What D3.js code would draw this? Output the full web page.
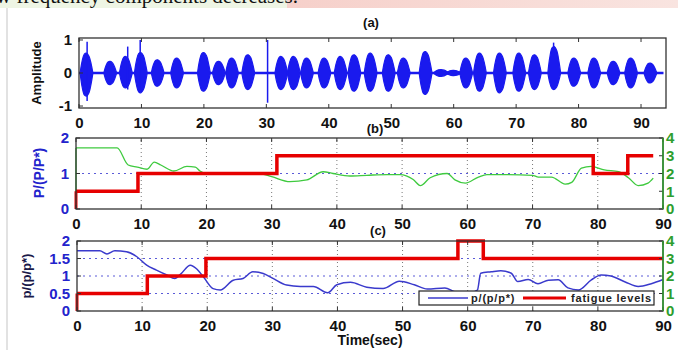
<!DOCTYPE html>
<html><head><meta charset="utf-8">
<script src="https://cdn.jsdelivr.net/npm/d3@7"></script>
<style>body{margin:0;background:#fff}svg{display:block}</style>
</head><body>
<svg id="c" width="678" height="350"></svg>
<script>
// ---------- DATA ----------
const xTicks = [0,10,20,30,40,50,60,70,80,90];
// (a) speech-like bursts: [centre time, upper amp, lower amp]
const burstT  = [1.2,5,7.5,9.9,12.6,15.7,20,22.4,24.5,27.1,32.4,34.4,36.5,39.3,41.9,44.1,46.7,49.6,52,55.5,58,60,62,64.2,67.4,70.5,73,76.1,79.3,82.5,85.6,88.4,91.5];
const burstUp = [0.6,0.35,0.5,0.62,0.4,0.45,0.62,0.35,0.45,0.55,0.5,0.5,0.45,0.45,0.5,0.55,0.6,0.55,0.45,0.65,0.1,0.08,0.45,0.6,0.6,0.6,0.55,0.8,0.45,0.45,0.35,0.45,0.3];
const burstDn = [-0.7,-0.35,-0.45,-0.6,-0.4,-0.45,-0.55,-0.35,-0.45,-0.5,-0.5,-0.5,-0.45,-0.45,-0.5,-0.55,-0.55,-0.55,-0.45,-0.65,-0.1,-0.08,-0.45,-0.55,-0.6,-0.55,-0.5,-0.5,-0.4,-0.45,-0.35,-0.45,-0.3];
const spikeT  = [1.3,7.8,9.8,30.2,76.0];
const spikeUp = [0.95,0.8,1.0,1.0,0.92];
const spikeDn = [-0.85,-0.5,-0.5,-0.9,-0.5];
const signalEnd = 93.6;
const yTicksA = [-1,0,1];
// (b)
const gT = [0,6.3,8,9.4,10.9,12,13,15,17,18.3,19,20,22,25,28,30,32.8,35.4,37.9,39.4,42,44.6,47.7,49.7,51.7,52.8,54.3,56.9,58.1,59.7,61.7,63,66,70,70.9,72.9,75,76,77.5,79,81,83.2,84.7,86.2,87.7,88.5];
const gV = [1.72,1.72,1.24,1.18,1.12,1.32,1.24,1.07,1.2,1.18,1.07,1.0,1.02,1.0,1.0,0.91,0.77,0.82,1.05,1.0,0.93,0.95,0.97,0.97,0.83,0.66,0.88,1.0,0.82,0.73,0.9,0.97,0.97,0.95,0.9,0.9,0.7,0.75,1.15,1.2,1.1,1.05,0.88,0.66,0.73,0.87];
const fbT = [0,9.5,30.8,79.3,84.6,88.5];
const fbV = [1,2,3,2,3,3];
const yTicksB = [0,1,2];
const rTicks = [0,1,2,3,4];
// (c)
const bT = [0,3.5,4.6,5.8,7.6,9.2,10.7,12.2,13.8,15,16,17.4,18.4,19.4,20.9,22,24,25.5,27,28.6,30.1,32.2,34.3,36.3,38.5,39.9,42,44.5,47,49.5,51.8,53.8,56.5,58,60,61.5,62,63.6,65.1,66.7,67.7,69.3,70.8,72.4,73.9,75.4,77,79,80.5,82,84.2,86.2,88.2,90];
const bV = [1.72,1.72,1.63,1.72,1.69,1.55,1.31,1.17,1.03,0.93,1.07,1.31,1.2,0.98,0.64,0.6,0.88,0.93,1.12,1.07,0.93,0.74,0.7,0.7,0.52,0.75,0.82,0.68,0.64,0.85,0.75,0.63,0.66,0.55,0.5,0.6,1.08,1.12,1.15,1.08,0.84,0.9,0.78,0.88,0.89,0.66,0.6,0.89,1.03,1.0,0.83,0.7,0.78,0.9];
const fcT = [0,10.8,19.8,58.5,62.4,90];
const fcV = [1,2,3,4,3,3];
const yTicksC = [0,0.5,1,1.5,2];
const yTickLabelsC = ["0","0.5","1","1.5","2"];
const legendLabels = ["p/(p/p*)","fatigue levels"];

// ---------- DRAW ----------
const svg = d3.select("#c");
const RED="#e60000", GREEN="#3fca3f", BLUE="#1a1aee", LBLUE="#3a3acc", GLAB="#2e9e2e", BLAB="#2323cc";
const FONT = "'Liberation Sans', Arial, sans-serif";

// page background pieces
svg.append("rect").attr("x",0).attr("y",0).attr("width",287).attr("height",8).attr("fill","#eef5e4");
const grad = svg.append("defs").append("linearGradient").attr("id","pk");
grad.append("stop").attr("offset","0").attr("stop-color","#f6d0ca");
grad.append("stop").attr("offset","1").attr("stop-color","#f9e4e0");
svg.append("rect").attr("x",287).attr("y",0).attr("width",391).attr("height",8).attr("fill","url(#pk)");
svg.append("text").attr("x",-4).attr("y",3).attr("font-family","'Liberation Serif', serif").attr("font-size",21).attr("fill","#111").text("w frequency components decreases.");
svg.append("line").attr("x1",7).attr("x2",7).attr("y1",8).attr("y2",350).attr("stroke","#e2e2e2").attr("stroke-width",2);

function box(g, x, y){
  const [x0,x1]=x.range(), [y0,y1]=y.range();
  g.append("rect").attr("x",x0).attr("y",y1).attr("width",x1-x0).attr("height",y0-y1)
   .attr("fill","none").attr("stroke","#333").attr("stroke-width",1.3);
}
function xAxis(g, x, y){
  const [y0,y1]=y.range();
  const ax = d3.axisBottom(x).tickValues(xTicks).tickSize(0).tickPadding(9).tickFormat(d3.format("d"));
  const a = g.append("g").attr("transform",`translate(0,${y0})`).call(ax);
  a.select(".domain").remove();
  a.selectAll("text").attr("font-family",FONT).attr("font-weight","bold").attr("font-size",15).attr("fill","#111");
  g.selectAll(null).data(xTicks).join("line").attr("x1",d=>x(d)).attr("x2",d=>x(d)).attr("y1",y0).attr("y2",y0-4).attr("stroke","#333");
  g.selectAll(null).data(xTicks).join("line").attr("x1",d=>x(d)).attr("x2",d=>x(d)).attr("y1",y1).attr("y2",y1+4).attr("stroke","#333");
}
function yAxisLeft(g, x, y, ticks, labels, color){
  const x0=x.range()[0];
  const ax = d3.axisLeft(y).tickValues(ticks).tickSize(0).tickPadding(7).tickFormat((d,i)=>labels?labels[i]:String(d));
  const a = g.append("g").attr("transform",`translate(${x0},0)`).call(ax);
  a.select(".domain").remove();
  a.selectAll("text").attr("font-family",FONT).attr("font-weight","bold").attr("font-size",15).attr("fill",color);
  g.selectAll(null).data(ticks).join("line").attr("x1",x0).attr("x2",x0+4).attr("y1",d=>y(d)).attr("y2",d=>y(d)).attr("stroke","#333");
}
function yAxisRight(g, x, yR){
  const x1=x.range()[1];
  const ax = d3.axisRight(yR).tickValues(rTicks).tickSize(0).tickPadding(3).tickFormat(d3.format("d"));
  const a = g.append("g").attr("transform",`translate(${x1},0)`).call(ax);
  a.select(".domain").remove();
  a.selectAll("text").attr("font-family",FONT).attr("font-weight","bold").attr("font-size",15).attr("fill",GLAB);
  g.selectAll(null).data(rTicks).join("line").attr("x1",x1).attr("x2",x1-4).attr("y1",d=>yR(d)).attr("y2",d=>yR(d)).attr("stroke","#333");
  g.append("line").attr("x1",x1).attr("x2",x1).attr("y1",yR.range()[0]).attr("y2",yR.range()[1]).attr("stroke",GLAB).attr("stroke-width",1.5);
}
function vGrid(g, x, y){
  const [y0,y1]=y.range();
  g.selectAll(null).data(xTicks.filter(d=>d>0&&d<90)).join("line")
   .attr("x1",d=>x(d)).attr("x2",d=>x(d)).attr("y1",y0).attr("y2",y1)
   .attr("stroke","#777").attr("stroke-dasharray","1,3");
}
function hGrid(g, x, y, vals){
  const [x0,x1]=x.range();
  g.selectAll(null).data(vals).join("line").attr("x1",x0).attr("x2",x1).attr("y1",d=>y(d)).attr("y2",d=>y(d))
   .attr("stroke","#5a5ad8").attr("stroke-dasharray","2,4");
}
function yLabel(g, xpos, ypos, txt, color, size){
  g.append("text").attr("transform",`translate(${xpos},${ypos}) rotate(-90)`).attr("text-anchor","middle")
   .attr("font-family",FONT).attr("font-weight","bold").attr("font-size",size).attr("fill",color).text(txt);
}
function title(g, xpos, ypos, txt){
  g.append("text").attr("x",xpos).attr("y",ypos).attr("text-anchor","middle").attr("font-family",FONT)
   .attr("font-weight","bold").attr("font-size",13).attr("fill","#111").text(txt);
}

// ----- Panel (a)
{
  const g = svg.append("g");
  const x = d3.scaleLinear().domain([0,94]).range([79,666]);
  const y = d3.scaleLinear().domain([-1.06,1.06]).range([108,38]);
  g.append("line").attr("x1",x(0)).attr("x2",x(signalEnd)).attr("y1",y(0)).attr("y2",y(0)).attr("stroke",BLUE).attr("stroke-width",2.5);
  const prof = [[-1,0.05],[-0.7,0.6],[-0.35,0.95],[0,1],[0.4,0.85],[0.75,0.45],[1,0.05]];
  const area = d3.area().x(d=>x(d.t)).y0(d=>y(d.lo)).y1(d=>y(d.hi)).curve(d3.curveCatmullRom);
  burstT.forEach((t,i)=>{
    const hw = burstUp[i] < 0.15 ? 1.2 : 1.0;
    const pts = prof.map(([o,f])=>({t:t+o*hw, hi:burstUp[i]*f, lo:burstDn[i]*f}));
    g.append("path").attr("d",area(pts)).attr("fill",BLUE).attr("stroke",BLUE).attr("stroke-width",1.2);
  });
  g.selectAll(null).data(spikeT).join("line").attr("x1",d=>x(d)).attr("x2",d=>x(d))
   .attr("y1",(d,i)=>y(spikeUp[i])).attr("y2",(d,i)=>y(spikeDn[i])).attr("stroke",BLUE).attr("stroke-width",1.5);
  box(g,x,y);
  xAxis(g,x,y);
  yAxisLeft(g,x,y,yTicksA,null,"#111");
  yLabel(g,41,73,"Amplitude","#111",13);
  title(g,371,27,"(a)");
}

// ----- Panel (b)
{
  const g = svg.append("g");
  const x = d3.scaleLinear().domain([0,90]).range([76,663]);
  const y = d3.scaleLinear().domain([0,2]).range([209,138]);
  const yR = d3.scaleLinear().domain([0,4]).range([209,138]);
  vGrid(g,x,y); hGrid(g,x,y,[1]);
  const line = d3.line().x(d=>x(d[0])).y(d=>y(d[1])).curve(d3.curveMonotoneX);
  g.append("path").attr("d",line(gT.map((t,i)=>[t,gV[i]]))).attr("fill","none").attr("stroke",GREEN).attr("stroke-width",1.3);
  g.append("line").attr("x1",x(0)).attr("x2",x(0)).attr("y1",y(0)).attr("y2",y(gV[0])).attr("stroke",GREEN).attr("stroke-width",1.3);
  const sl = d3.line().x(d=>x(d[0])).y(d=>yR(d[1])).curve(d3.curveStepAfter);
  g.append("path").attr("d",sl(fbT.map((t,i)=>[t,fbV[i]]))).attr("fill","none").attr("stroke",RED).attr("stroke-width",3.5);
  g.append("line").attr("x1",x(0)).attr("x2",x(0)).attr("y1",yR(0)).attr("y2",yR(fbV[0])).attr("stroke",RED).attr("stroke-width",3);
  box(g,x,y);
  xAxis(g,x,y);
  yAxisLeft(g,x,y,yTicksB,null,BLAB);
  yAxisRight(g,x,yR);
  yLabel(g,44,173,"P/(P/P*)",BLAB,14);
  title(g,375,133,"(b)");
}

// ----- Panel (c)
{
  const g = svg.append("g");
  const x = d3.scaleLinear().domain([0,90]).range([77,663]);
  const y = d3.scaleLinear().domain([0,2]).range([311,241]);
  const yR = d3.scaleLinear().domain([0,4]).range([311,241]);
  vGrid(g,x,y); hGrid(g,x,y,[0.5,1,1.5]);
  const line = d3.line().x(d=>x(d[0])).y(d=>y(d[1])).curve(d3.curveMonotoneX);
  g.append("path").attr("d",line(bT.map((t,i)=>[t,bV[i]]))).attr("fill","none").attr("stroke",LBLUE).attr("stroke-width",1.5);
  const sl = d3.line().x(d=>x(d[0])).y(d=>yR(d[1])).curve(d3.curveStepAfter);
  g.append("path").attr("d",sl(fcT.map((t,i)=>[t,fcV[i]]))).attr("fill","none").attr("stroke",RED).attr("stroke-width",3.5);
  g.append("line").attr("x1",x(0)).attr("x2",x(0)).attr("y1",yR(0)).attr("y2",yR(fcV[0])).attr("stroke",RED).attr("stroke-width",3);
  const lg = g.append("g");
  lg.append("rect").attr("x",419).attr("y",291).attr("width",235).attr("height",14).attr("fill","#fff").attr("stroke","#222").attr("stroke-width",1.2);
  lg.append("line").attr("x1",428).attr("x2",468).attr("y1",298).attr("y2",298).attr("stroke",LBLUE).attr("stroke-width",1.5);
  lg.append("text").attr("x",471).attr("y",302).attr("font-family",FONT).attr("font-weight","bold").attr("font-size",11).attr("letter-spacing",0.8).attr("fill","#222").text(legendLabels[0]);
  lg.append("line").attr("x1",523).attr("x2",566).attr("y1",298).attr("y2",298).attr("stroke",RED).attr("stroke-width",3);
  lg.append("text").attr("x",571).attr("y",302).attr("font-family",FONT).attr("font-weight","bold").attr("font-size",11).attr("letter-spacing",0.8).attr("fill","#222").text(legendLabels[1]);
  box(g,x,y);
  xAxis(g,x,y);
  yAxisLeft(g,x,y,yTicksC,yTickLabelsC,BLAB);
  yAxisRight(g,x,yR);
  yLabel(g,31,276,"p/(p/p*)","#1a1a4a",13);
  title(g,378,235,"(c)");
  g.append("text").attr("x",370).attr("y",345).attr("text-anchor","middle").attr("font-family",FONT)
   .attr("font-weight","bold").attr("font-size",14).attr("fill","#111").text("Time(sec)");
}
</script>
</body></html>
